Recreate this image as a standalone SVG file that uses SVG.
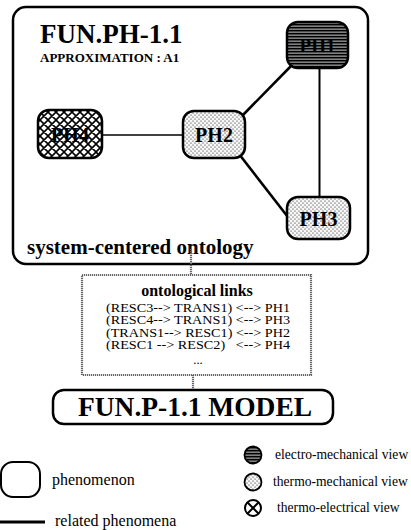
<svg xmlns="http://www.w3.org/2000/svg" width="411" height="530" viewBox="0 0 411 530">
<style>
.t{font-family:"Liberation Serif","Times New Roman",serif;fill:#000}
.b{font-weight:bold}
.node{stroke:#000;stroke-width:2.5}
.link{stroke:#000;fill:none}
.tex{stroke:#666;stroke-width:2.2;stroke-dasharray:1.2 0.8;fill:none}
</style>
<defs>
<pattern id="stripes" width="4" height="3" patternUnits="userSpaceOnUse">
<rect width="4" height="3" fill="#000"/>
<rect y="1.7" width="4" height="0.8" fill="#fff"/>
</pattern>
<pattern id="dots" width="4" height="4" patternUnits="userSpaceOnUse">
<rect width="4" height="4" fill="#f7f7f7"/>
<circle cx="1" cy="1" r="0.6" fill="#111"/>
<circle cx="3" cy="3" r="0.6" fill="#111"/>
</pattern>
<pattern id="hatch" width="8" height="8" patternUnits="userSpaceOnUse">
<rect width="8" height="8" fill="#fff"/>
<path d="M0 0L8 8M8 0L0 8M-2 6L2 10M6 -2L10 2M6 10L10 6M-2 2L2 -2" stroke="#000" stroke-width="1.6"/>
</pattern>
</defs>

<g id="frame">
<rect x="13" y="7" width="355" height="257" rx="13" fill="none" stroke="#000" stroke-width="2.5"/>
<text class="t b" x="40" y="43" font-size="27">FUN.PH-1.1</text>
<text class="t b" x="40" y="62" font-size="13">APPROXIMATION : A1</text>
<text class="t b" x="27" y="254" font-size="21">system-centered ontology</text>
</g>

<g id="connectors">
<line class="link" x1="102" y1="135" x2="183" y2="135" stroke-width="1.6"/>
<line class="link" x1="242" y1="116" x2="293" y2="64" stroke-width="2.6"/>
<line class="link" x1="239" y1="154" x2="291" y2="221" stroke-width="2.6"/>
<line class="link" x1="319.5" y1="68" x2="319.5" y2="197" stroke-width="2"/>
<line class="tex" x1="191" y1="249" x2="191" y2="275"/>
<line class="tex" x1="193" y1="375" x2="193" y2="390"/>
</g>

<g id="PH1">
<rect class="node" x="287" y="22" width="61" height="46" rx="11" fill="url(#stripes)"/>
<text class="t b" x="317.5" y="52" font-size="19" text-anchor="middle">PH1</text>
</g>
<g id="PH2">
<rect class="node" x="183" y="111" width="62" height="47" rx="11" fill="url(#dots)"/>
<text class="t b" x="214" y="142" font-size="20" text-anchor="middle">PH2</text>
</g>
<g id="PH3">
<rect class="node" x="287" y="197" width="63" height="42" rx="11" fill="url(#dots)"/>
<text class="t b" x="318.5" y="226" font-size="20" text-anchor="middle">PH3</text>
</g>
<g id="PH4">
<rect class="node" x="38" y="110" width="64" height="48" rx="11" fill="url(#hatch)"/>
<text class="t b" x="70" y="142" font-size="20" text-anchor="middle">PH4</text>
</g>

<g id="links">
<rect x="82" y="275" width="229" height="100" class="tex" stroke-width="2.5"/>
<text class="t b" x="197" y="296" font-size="16" text-anchor="middle">ontological links</text>
<text class="t" x="106" y="311.5" font-size="12.5" textLength="184" lengthAdjust="spacingAndGlyphs">(RESC3--&gt; TRANS1) &lt;--&gt; PH1</text>
<text class="t" x="106" y="324" font-size="12.5" textLength="184" lengthAdjust="spacingAndGlyphs">(RESC4--&gt; TRANS1) &lt;--&gt; PH3</text>
<text class="t" x="106" y="336.5" font-size="12.5" textLength="184" lengthAdjust="spacingAndGlyphs">(TRANS1--&gt; RESC1) &lt;--&gt; PH2</text>
<text class="t" x="106" y="349" font-size="12.5" textLength="184" lengthAdjust="spacingAndGlyphs" xml:space="preserve">(RESC1 --&gt; RESC2)   &lt;--&gt; PH4</text>
<text class="t" x="198" y="364" font-size="12.5" text-anchor="middle">...</text>
</g>

<g id="model">
<rect x="53" y="390" width="280" height="34" rx="11" fill="#fff" stroke="#000" stroke-width="2.5"/>
<text class="t b" x="78" y="416" font-size="28" textLength="234" lengthAdjust="spacingAndGlyphs">FUN.P-1.1 MODEL</text>
</g>

<g id="legend">
<rect x="1" y="462" width="39" height="35" rx="12" fill="none" stroke="#000" stroke-width="2"/>
<text class="t" x="52" y="485" font-size="16">phenomenon</text>
<line x1="0" y1="522" x2="45" y2="522" stroke="#000" stroke-width="3"/>
<text class="t" x="55" y="526" font-size="16">related phenomena</text>

<circle cx="253" cy="455" r="8.5" fill="url(#stripes)" stroke="#000" stroke-width="1.8"/>
<text class="t" x="275" y="459" font-size="13.6">electro-mechanical view</text>
<circle cx="253" cy="482" r="8.5" fill="url(#dots)" stroke="#000" stroke-width="1.8"/>
<text class="t" x="273" y="486" font-size="13.6">thermo-mechanical view</text>
<circle cx="253" cy="508" r="8" fill="#fff" stroke="#000" stroke-width="2"/>
<path d="M247.3 502.3L258.7 513.7M258.7 502.3L247.3 513.7" stroke="#000" stroke-width="2"/>
<text class="t" x="277" y="512" font-size="13.6">thermo-electrical view</text>
</g>
</svg>
